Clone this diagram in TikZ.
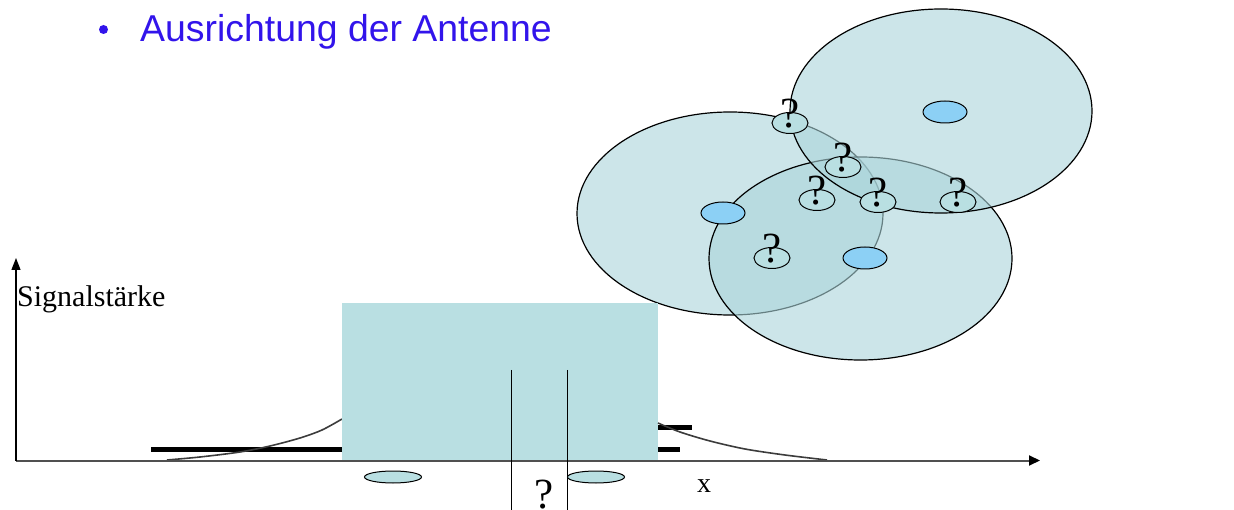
\documentclass[tikz,border=0pt]{standalone}
\usepackage{fontspec}
\setmainfont{Liberation Serif}
\newfontfamily\arialfont{Liberation Sans}
\usetikzlibrary{shapes.geometric,arrows.meta}
\definecolor{titleblue}{RGB}{50,20,235}
\definecolor{boxteal}{RGB}{185,223,226}
\definecolor{areateal}{RGB}{170,212,218}
\definecolor{nodeblue}{RGB}{140,208,245}
\definecolor{axisgray}{RGB}{80,80,80}
\definecolor{curvegray}{RGB}{60,60,60}
\begin{document}
\begin{tikzpicture}[x=1pt,y=-1pt,
  area/.style={fill=areateal, fill opacity=0.6, draw=black, line width=1.2pt},
  qell/.style={ellipse, draw=black, fill=boxteal, line width=1pt, minimum width=36pt, minimum height=21pt, inner sep=0pt},
  bell/.style={ellipse, draw=black, fill=nodeblue, line width=1pt, minimum width=44pt, minimum height=22pt, inner sep=0pt},
  flatell/.style={ellipse, draw=black, fill=boxteal, line width=1pt, minimum width=57pt, minimum height=12pt, inner sep=0pt},
  qmark/.style={font=\fontsize{43}{43}\selectfont, inner sep=0pt, anchor=base},
  thickbar/.style={line width=5pt, black},
  tailcurve/.style={curvegray, line width=1.6pt},
  marker/.style={black, line width=1pt}
]
\useasboundingbox (0,0) rectangle (1234,510);

% title
\node[circle, fill=titleblue, inner sep=0pt, minimum size=9pt] (bullet) at (103.5,29.5) {};
\node[anchor=base west, text=titleblue, font=\arialfont\fontsize{37.4}{40}\selectfont, inner sep=0pt] (title) at (140,42) {Ausrichtung der Antenne};

% coverage areas
\path[area] (730,213.5) ellipse [x radius=153pt, y radius=101.5pt];
\path[area] (860.5,258.5) ellipse [x radius=151.5pt, y radius=101.5pt];
\path[area] (941,111) ellipse [x radius=151pt, y radius=102pt];

% known stations
\node[bell] (b1) at (945,112) {};
\node[bell] (b2) at (723,213) {};
\node[bell] (b3) at (865,258) {};

% unknown stations
\foreach \n/\px/\py in {q1/790/123, q2/843/167, q3/817/200, q4/878/202, q5/958/202, q6/772/258}{
  \node[qell] (\n) at (\px,\py) {};
  \node[qmark] (\n m) at (\px,\py+5) {?};
}

% signal diagram
\coordinate (O) at (16,460.5);
\coordinate (xend) at (1040,460.5);
\coordinate (yend) at (16,258);
\coordinate (lbarA) at (151,449.5);
\coordinate (lbarB) at (342,449.5);
\draw[thickbar] (lbarA) -- (lbarB);
\draw[tailcurve] plot[smooth] coordinates {(167,460) (200,457) (240,452) (270,446) (300,438) (322,430) (342,419)};
\fill[boxteal] (342,303) rectangle (658,460);
\node[anchor=north west, inner sep=0pt] (box) at (342,303) {};
\coordinate (rbarA) at (658,427);
\coordinate (rbarB) at (692,427);
\coordinate (rbarC) at (658,449.5);
\coordinate (rbarD) at (680,449.5);
\draw[thickbar] (rbarA) -- (rbarB);
\draw[thickbar] (rbarC) -- (rbarD);
\draw[tailcurve] plot[smooth] coordinates {(658,423) (680,432) (710,441) (745,449) (785,455) (827,460)};

\draw[axisgray, line width=2pt, -{Triangle[length=11pt,width=10pt,color=black]}] (O) -- (xend);
\draw[black, line width=1.3pt, -{Triangle[length=12pt,width=9pt]}] (O) -- (yend);

\coordinate (v1t) at (511.5,370);
\coordinate (v1b) at (511.5,510);
\coordinate (v2t) at (567.5,370);
\coordinate (v2b) at (567.5,510);
\draw[marker] (v1t) -- (v1b);
\draw[marker] (v2t) -- (v2b);

\node[flatell] (e1) at (393,477) {};
\node[flatell] (e2) at (596,477) {};

\node[anchor=base west, font=\fontsize{30}{30}\selectfont, inner sep=0pt] (ylabel) at (17,307) {Signalstärke};
\node[anchor=base west, font=\fontsize{28}{28}\selectfont, inner sep=0pt] (xlabel) at (697,492) {x};
\node[qmark] (qbottom) at (544,508.5) {?};
\end{tikzpicture}
\end{document}
